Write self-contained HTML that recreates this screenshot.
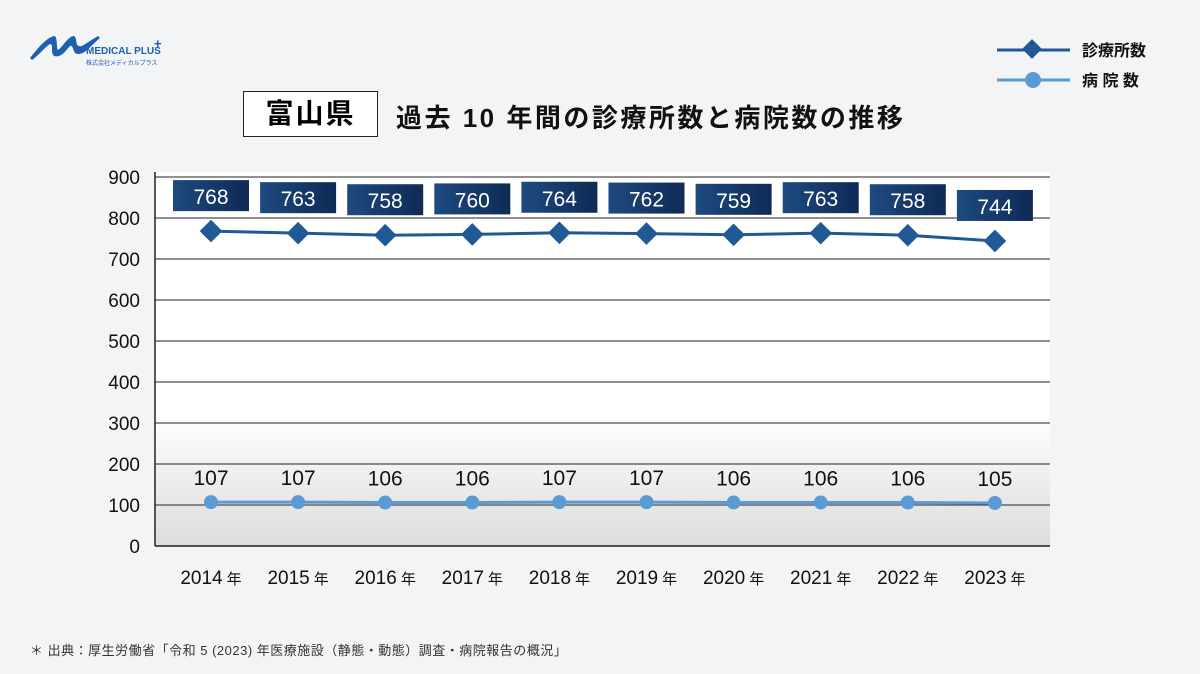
<!DOCTYPE html>
<html><head><meta charset="utf-8">
<style>
body{margin:0;width:1200px;height:674px;background:#f3f4f5;font-family:"Liberation Sans","Noto Sans CJK JP",sans-serif;overflow:hidden;position:relative}
.abs{position:absolute}
</style></head><body>
<div class="abs" style="left:28px;top:28px;width:150px;height:40px">
<svg width="150" height="40"><path d="M2 30 C10 20,18 10,26 8 C30 8,28 20,30 22 C34 20,40 8,46 8 C50 10,46 20,54 18 L70 8 L72 10 C62 18,58 26,50 26 C44 26,46 16,42 18 C38 22,34 30,26 28 C22 24,26 16,22 16 C16 20,10 28,4 32Z" fill="#1f5fb0"/>
<text x="58" y="26" font-size="10" font-weight="bold" fill="#1f5fb0" font-family="Liberation Sans">MEDICAL PLUS</text>
<text x="126" y="20" font-size="13" font-weight="bold" fill="#1f5fb0">+</text>
<text x="58" y="37" font-size="6" fill="#1f5fb0">株式会社メディカルプラス</text></svg></div>
<div class="abs" style="left:243px;top:91px;width:133px;height:44px;border:1.5px solid #222;background:#fff;font-size:28px;font-weight:bold;line-height:44px;text-align:center;letter-spacing:2px">富山県</div>
<div class="abs" style="left:396px;top:98px;font-size:26px;font-weight:bold;color:#111;letter-spacing:2.5px;white-space:nowrap">過去 10 年間の診療所数と病院数の推移</div>
<div class="abs" style="left:995px;top:36px;width:200px;height:60px">
<svg width="200" height="60"><line x1="2" y1="14" x2="75" y2="14" stroke="#1f5a96" stroke-width="3"/><rect x="30" y="6" width="14" height="14" transform="rotate(45 37 13)" fill="#1f5a96"/>
<line x1="2" y1="44" x2="75" y2="44" stroke="#5b9bd5" stroke-width="3"/><circle cx="38" cy="44" r="8" fill="#5b9bd5"/>
<text x="87" y="20" font-size="16" font-weight="bold" fill="#111">診療所数</text><text x="87" y="50" font-size="16" font-weight="bold" fill="#111">病 院 数</text></svg></div>
<svg id="chart" class="abs" style="left:0;top:0" width="1200" height="674">
<defs><linearGradient id="bg" x1="0" y1="0" x2="0" y2="1"><stop offset="0.65" stop-color="#fff"/><stop offset="1" stop-color="#dcdcdc"/></linearGradient>
<linearGradient id="bx" x1="0" y1="0" x2="1" y2="0"><stop offset="0" stop-color="#1e4a80"/><stop offset="1" stop-color="#0f2a55"/></linearGradient></defs>
<rect x="155" y="172" width="895" height="374" fill="url(#bg)"/>
<g id="grid"></g><g id="marks"></g></svg>
<div class="abs" style="left:30px;top:640px;font-size:13px;color:#333;letter-spacing:0.5px">＊ 出典：厚生労働省「令和 5 (2023) 年医療施設（静態・動態）調査・病院報告の概況」</div>
<script>
const years=["2014","2015","2016","2017","2018","2019","2020","2021","2022","2023"];
const clinics=[768,763,758,760,764,762,759,763,758,744];
const hospitals=[107,107,106,106,107,107,106,106,106,105];
const yTicks=[0,100,200,300,400,500,600,700,800,900];
const NS="http://www.w3.org/2000/svg";
const y=v=>546-v*0.41;
const x=i=>211+i*87.1;
const g=document.getElementById('grid'),m=document.getElementById('marks');
function mk(p,tag,a,t){const e=document.createElementNS(NS,tag);for(const k in a)e.setAttribute(k,a[k]);if(t!=null)e.textContent=t;p.appendChild(e);return e;}
yTicks.forEach(v=>{
 const l=mk(g,'line',{x1:155,x2:1050,y1:y(v),y2:y(v),stroke:'#222','stroke-width':v===0?1.5:1});
 
 
 const t=mk(g,'text',{x:140,y:y(v)+7,'text-anchor':'end','font-size':19,fill:'#111'},v);
 
 
});
mk(g,'line',{x1:155,x2:155,y1:172,y2:546,stroke:'#222','stroke-width':1.5});
years.forEach((yr,i)=>{
 const t=mk(g,'text',{x:x(i),y:584,'text-anchor':'middle','font-size':19,fill:'#111'});
 t.innerHTML=yr+'<tspan font-size="15" dx="4">年</tspan>';
 
 
});
const l1=mk(m,'polyline',{points:clinics.map((v,i)=>x(i)+','+y(v)).join(' '),fill:'none',stroke:'#1f5a96','stroke-width':3});


const l2=mk(m,'polyline',{points:hospitals.map((v,i)=>x(i)+','+y(v)).join(' '),fill:'none',stroke:'#5b9bd5','stroke-width':3});


clinics.forEach((v,i)=>{
 const d=mk(m,'rect',{x:x(i)-8,y:y(v)-8,width:16,height:16,fill:'#1f5a96',transform:`rotate(45 ${x(i)} ${y(v)})`});
 
 
 const b=mk(m,'rect',{x:x(i)-38,y:y(v)-51,width:76,height:31,fill:'url(#bx)'});
 
 
 const t=mk(m,'text',{x:x(i),y:y(v)-27,'text-anchor':'middle','font-size':21,fill:'#fff'},v);
 
 
});
hospitals.forEach((v,i)=>{
 const c=mk(m,'circle',{cx:x(i),cy:y(v),r:7,fill:'#5b9bd5'});
 
 
 const t=mk(m,'text',{x:x(i),y:y(v)-17,'text-anchor':'middle','font-size':21,fill:'#111'},v);
 
 
});
</script>
</body></html>
